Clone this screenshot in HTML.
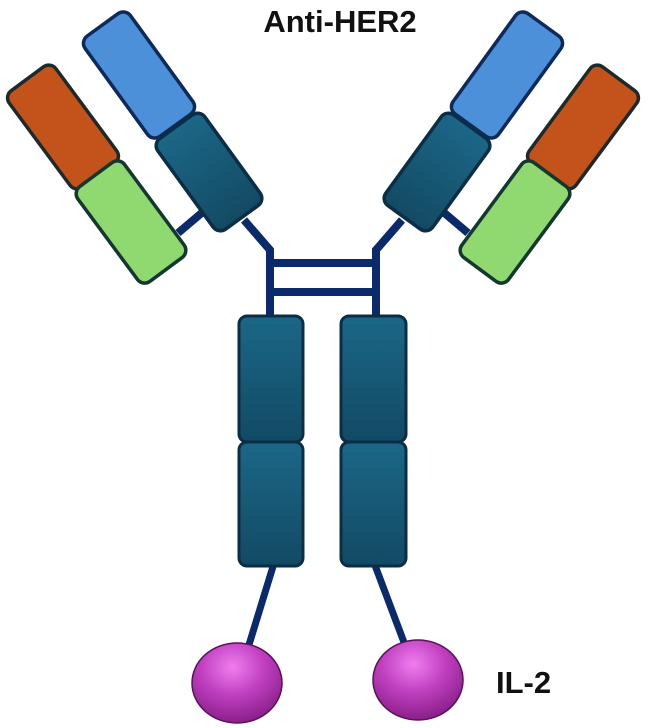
<!DOCTYPE html>
<html><head><style>body{margin:0;background:#fff;}svg{display:block}</style></head><body>
<svg width="651" height="728" viewBox="0 0 651 728" xmlns="http://www.w3.org/2000/svg">
<defs>
<linearGradient id="tl" x1="0" y1="0" x2="0" y2="1"><stop offset="0" stop-color="#1b6787"/><stop offset="1" stop-color="#124a64"/></linearGradient>
<linearGradient id="tr" x1="0" y1="0" x2="1" y2="0"><stop offset="0" stop-color="#1b6787"/><stop offset="1" stop-color="#134a63"/></linearGradient>
<radialGradient id="ball" cx="0.45" cy="0.3" r="0.7"><stop offset="0" stop-color="#f07ef0"/><stop offset="0.5" stop-color="#c040c0"/><stop offset="1" stop-color="#8a1f8a"/></radialGradient>
<g id="arm">
  <line x1="178" y1="233" x2="204" y2="211" stroke="#0a2a6b" stroke-width="8"/>
  <polyline points="244,220 270,250 270,318" fill="none" stroke="#0a2a6b" stroke-width="8"/>
  <rect x="-62" y="-28" width="124" height="56" rx="9" transform="translate(139,75) rotate(54)" fill="#4b90d8" stroke="#0d2a5a" stroke-width="3.5"/>
  <rect x="-56" y="-29" width="112" height="58" rx="9" transform="translate(209,172) rotate(54)" fill="url(#tr)" stroke="#0b2d45" stroke-width="3.5"/>
  <rect x="-60" y="-29" width="120" height="58" rx="9" transform="translate(63,127) rotate(53.5)" fill="#c4521b" stroke="#1d2a2a" stroke-width="3.5"/>
  <rect x="-59" y="-29" width="118" height="58" rx="9" transform="translate(131,222) rotate(53.5)" fill="#8fd970" stroke="#143830" stroke-width="3.5"/>
</g>
</defs>
<use href="#arm"/>
<g transform="translate(646,0) scale(-1,1)"><use href="#arm"/></g>
<line x1="270" y1="263" x2="378" y2="263" stroke="#0a2a6b" stroke-width="8"/>
<line x1="270" y1="292" x2="378" y2="292" stroke="#0a2a6b" stroke-width="8"/>
<line x1="275" y1="560" x2="248" y2="648" stroke="#0a2a6b" stroke-width="7"/>
<line x1="373" y1="560" x2="405" y2="645" stroke="#0a2a6b" stroke-width="7"/>
<rect x="239" y="316" width="64" height="126" rx="8" fill="url(#tl)" stroke="#0b2d45" stroke-width="3"/>
<rect x="239" y="442" width="64" height="124" rx="8" fill="url(#tl)" stroke="#0b2d45" stroke-width="3"/>
<rect x="341" y="316" width="65" height="126" rx="8" fill="url(#tl)" stroke="#0b2d45" stroke-width="3"/>
<rect x="341" y="442" width="65" height="124" rx="8" fill="url(#tl)" stroke="#0b2d45" stroke-width="3"/>
<ellipse cx="237" cy="683" rx="45" ry="40" fill="url(#ball)" stroke="#5a105a" stroke-width="1.5"/>
<ellipse cx="418" cy="680" rx="45" ry="40" fill="url(#ball)" stroke="#5a105a" stroke-width="1.5"/>
<text x="340" y="32" text-anchor="middle" font-family="Liberation Sans, sans-serif" font-weight="bold" font-size="31" fill="#111">Anti-HER2</text>
<text x="496" y="693" font-family="Liberation Sans, sans-serif" font-weight="bold" font-size="31" fill="#111">IL-2</text>
</svg>
</body></html>
